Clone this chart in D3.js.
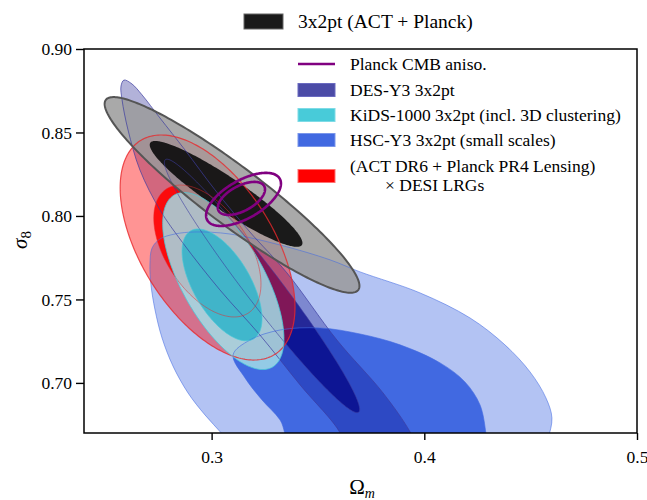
<!DOCTYPE html>
<html>
<head>
<meta charset="utf-8">
<script src="https://cdn.jsdelivr.net/npm/d3@7/dist/d3.min.js"></script>
<style>
  body { margin: 0; background: #fff; }
  svg { display: block; font-family: "Liberation Serif", "Times New Roman", serif; }
</style>
</head>
<body>
<svg id="chart" width="647" height="500"></svg>
<script>
// ---- axis ranges and ticks ----
const xDomain = [0.24, 0.50];
const yDomain = [0.67, 0.90];
const xTicks = [0.3, 0.4, 0.5];
const yTicks = [0.70, 0.75, 0.80, 0.85, 0.90];

// ---- Gaussian-like contours: centre, marginal half-widths, correlation ----
const actPlanckOuter = { cx: 0.3096, cy: 0.8126, sx: 0.0599, sy: 0.0586, rho: -0.930 };
const actPlanckInner = { cx: 0.3068, cy: 0.8132, sx: 0.0359, sy: 0.0317, rho: -0.927 };
const planckOuter    = { cx: 0.3150, cy: 0.8099, sx: 0.0176, sy: 0.0159, rho: 0.60 };
const planckInner    = { cx: 0.3140, cy: 0.8105, sx: 0.0111, sy: 0.0099, rho: 0.55 };
const kidsOuter      = { cx: 0.3055, cy: 0.7610, sx: 0.0285, sy: 0.0530, rho: -0.65 };
const kidsInner      = { cx: 0.3049, cy: 0.7587, sx: 0.0188, sy: 0.0335, rho: -0.60 };
const lrgOuter       = { cx: 0.2981, cy: 0.7811, sx: 0.0411, sy: 0.0674, rho: -0.53 };
const lrgInner       = { cx: 0.2980, cy: 0.7790, sx: 0.0252, sy: 0.0395, rho: -0.50 };
const desInner       = { cx: 0.3237, cy: 0.7581, sx: 0.0459, sy: 0.0759, rho: -0.974 };

// ---- non-elliptical contours traced as (Omega_m, sigma_8) vertices ----
const desOuter = [
  [0.2588, 0.8814], [0.2626, 0.8790], [0.2673, 0.8725], [0.2757, 0.8587], [0.2875, 0.8395],
  [0.3016, 0.8156], [0.3180, 0.7904], [0.3354, 0.7659], [0.3589, 0.7257], [0.3806, 0.6940],
  [0.3933, 0.6707], [0.3970, 0.6599], [0.3800, 0.6590], [0.3627, 0.6599], [0.3604, 0.6701],
  [0.3416, 0.6988], [0.3227, 0.7287], [0.3039, 0.7557], [0.2865, 0.7838], [0.2757, 0.8036],
  [0.2663, 0.8275], [0.2607, 0.8515], [0.2579, 0.8695], [0.2574, 0.8778]
];
const hscOuter = [
  [0.2710, 0.7707], [0.2720, 0.7808], [0.2757, 0.7862], [0.2828, 0.7892], [0.2922, 0.7904],
  [0.3086, 0.7892], [0.3322, 0.7826], [0.3557, 0.7737], [0.3698, 0.7665], [0.3980, 0.7539],
  [0.4215, 0.7389], [0.4379, 0.7228], [0.4497, 0.7066], [0.4572, 0.6910], [0.4600, 0.6790],
  [0.4582, 0.6671], [0.4553, 0.6587], [0.3886, 0.6569], [0.3110, 0.6599], [0.3049, 0.6695],
  [0.2969, 0.6808], [0.2889, 0.6940], [0.2818, 0.7102], [0.2767, 0.7269], [0.2734, 0.7437],
  [0.2715, 0.7587]
];
const hscInner = [
  [0.3101, 0.7168], [0.3180, 0.7257], [0.3322, 0.7317], [0.3510, 0.7329], [0.3698, 0.7293],
  [0.3886, 0.7228], [0.4074, 0.7120], [0.4191, 0.7006], [0.4262, 0.6868], [0.4290, 0.6695],
  [0.4295, 0.6629], [0.3843, 0.6599], [0.3378, 0.6629], [0.3322, 0.6778], [0.3237, 0.6898],
  [0.3157, 0.7030]
];

// ---- legend labels ----
const topLegendLabel = "3x2pt (ACT + Planck)";
const legendLabels = [
  ["Planck CMB aniso."],
  ["DES-Y3 3x2pt"],
  ["KiDS-1000 3x2pt (incl. 3D clustering)"],
  ["HSC-Y3 3x2pt (small scales)"],
  ["(ACT DR6 + Planck PR4 Lensing)", "\u00d7 DESI LRGs"]
];

// ---- layout ----
const svg = d3.select("#chart");
const plot = { left: 84, right: 637, top: 49, bottom: 433 };
const x = d3.scaleLinear().domain(xDomain).range([plot.left, plot.right]);
const y = d3.scaleLinear().domain(yDomain).range([plot.bottom, plot.top]);

svg.append("defs").append("clipPath").attr("id", "plotClip")
  .append("rect")
  .attr("x", plot.left).attr("y", plot.top)
  .attr("width", plot.right - plot.left).attr("height", plot.bottom - plot.top);

function ellipsePoints(e, n = 240) {
  const pts = [];
  const k = Math.sqrt(1 - e.rho * e.rho);
  for (let i = 0; i < n; i++) {
    const t = (i / n) * 2 * Math.PI;
    pts.push([e.cx + e.sx * Math.cos(t), e.cy + e.sy * (e.rho * Math.cos(t) + k * Math.sin(t))]);
  }
  return pts;
}
const lineLinear = d3.line().x(d => x(d[0])).y(d => y(d[1])).curve(d3.curveLinearClosed);
const lineSmooth = d3.line().x(d => x(d[0])).y(d => y(d[1])).curve(d3.curveCatmullRomClosed.alpha(0.5));

const g = svg.append("g").attr("clip-path", "url(#plotClip)");
const fills = g.append("g");
const edges = g.append("g");

function contour(pts, smooth, fill, fillOpacity, stroke, strokeWidth, strokeOpacity) {
  const gen = smooth ? lineSmooth : lineLinear;
  fills.append("path").attr("d", gen(pts)).attr("fill", fill).attr("fill-opacity", fillOpacity).attr("stroke", "none");
  if (stroke) {
    edges.append("path").attr("d", gen(pts)).attr("fill", "none")
      .attr("stroke", stroke).attr("stroke-width", strokeWidth).attr("stroke-opacity", strokeOpacity);
  }
}

// HSC-Y3
contour(hscOuter, true, "#4169e1", 0.4, "#4169e1", 1, 0.55);
contour(hscInner, true, "#4169e1", 1.0, "#4169e1", 1, 0.6);
// DES-Y3
contour(desOuter, true, "#000080", 0.3, "#3c3ca0", 1, 0.7);
contour(ellipsePoints(desInner), false, "#000080", 0.7, "#3c3ca0", 1, 0.6);
// ACT DR6 + Planck PR4 lensing x DESI LRGs
contour(ellipsePoints(lrgOuter), false, "#ff0000", 0.42, "#e8282c", 1.2, 0.8);
contour(ellipsePoints(lrgInner), false, "#ff0000", 0.9, "#e8282c", 1, 0.5);
// KiDS-1000
contour(ellipsePoints(kidsOuter), false, "#a2dde6", 0.85, "#48cbd9", 1, 0.8);
contour(ellipsePoints(kidsInner), false, "#2eb3c9", 0.85, "#48cbd9", 1, 0.7);
// 3x2pt ACT + Planck
contour(ellipsePoints(actPlanckOuter), false, "#9a9a9a", 0.85, "#555555", 2, 1);
contour(ellipsePoints(actPlanckInner), false, "#0a0a0a", 0.9, null);
// Planck CMB anisotropies (lines only)
[planckOuter, planckInner].forEach(e => {
  g.append("path").attr("d", lineLinear(ellipsePoints(e)))
    .attr("fill", "none").attr("stroke", "#800080").attr("stroke-width", 2.6);
});

// ---- axes ----
const fontTick = 17.5;
const xAxis = d3.axisBottom(x).tickValues(xTicks).tickFormat(d3.format(".1f")).tickSizeOuter(0).tickSize(7);
const yAxis = d3.axisLeft(y).tickValues(yTicks).tickFormat(d3.format(".2f")).tickSizeOuter(0).tickSize(8);

const gx = svg.append("g").attr("transform", `translate(0,${plot.bottom})`).call(xAxis);
const gy = svg.append("g").attr("transform", `translate(${plot.left},0)`).call(yAxis);
[gx, gy].forEach(a => {
  a.select(".domain").remove();
  a.selectAll(".tick line").attr("stroke", "#000").attr("stroke-width", 1.4);
  a.selectAll(".tick text").attr("font-family", "Liberation Serif, serif").attr("font-size", fontTick).attr("fill", "#000");
});
gx.selectAll(".tick text").attr("dy", "1.15em");
gy.selectAll(".tick text").attr("x", -12);

svg.append("rect")
  .attr("x", plot.left).attr("y", plot.top)
  .attr("width", plot.right - plot.left).attr("height", plot.bottom - plot.top)
  .attr("fill", "none").attr("stroke", "#000").attr("stroke-width", 1.5);

// axis labels
const xl = svg.append("text").attr("x", 362).attr("y", 494).attr("text-anchor", "middle")
  .attr("font-size", 21);
xl.append("tspan").text("\u03a9");
xl.append("tspan").attr("font-style", "italic").attr("font-size", 14).attr("dy", 4).text("m");

const yl = svg.append("text").attr("transform", "translate(27,240) rotate(-90)").attr("text-anchor", "middle")
  .attr("font-size", 21);
yl.append("tspan").attr("font-style", "italic").text("\u03c3");
yl.append("tspan").attr("font-size", 15).attr("dy", 4).text("8");

// ---- top legend ----
svg.append("rect").attr("x", 244).attr("y", 14).attr("width", 39).attr("height", 15)
  .attr("fill", "#1a1a1a").attr("stroke", "#666").attr("stroke-width", 1);
svg.append("text").attr("x", 298).attr("y", 28).attr("font-size", 19.5).text(topLegendLabel);

// ---- inner legend ----
const legendColors = [
  { type: "line", color: "#800080" },
  { type: "box", color: "#4b4ba6", stroke: "#6a6ac0" },
  { type: "box", color: "#48cbd9", stroke: "#7fdbe6" },
  { type: "box", color: "#4169e1", stroke: "#7a96ea" },
  { type: "box", color: "#ff0000", stroke: "#ff7070" }
];
const rowY = [64, 90, 115, 140, 176];
const lg = svg.append("g");
legendLabels.forEach((lines, i) => {
  const h = legendColors[i];
  if (h.type === "line") {
    lg.append("line").attr("x1", 298).attr("x2", 335).attr("y1", rowY[i]).attr("y2", rowY[i])
      .attr("stroke", h.color).attr("stroke-width", 2.6);
  } else {
    lg.append("rect").attr("x", 298).attr("y", rowY[i] - 6.5).attr("width", 37).attr("height", 13)
      .attr("fill", h.color).attr("stroke", h.stroke).attr("stroke-width", 1);
  }
  if (lines.length === 1) {
    lg.append("text").attr("x", 350).attr("y", rowY[i] + 6).attr("font-size", fontTick).text(lines[0]);
  } else {
    lg.append("text").attr("x", 350).attr("y", rowY[i] - 4).attr("font-size", fontTick).text(lines[0]);
    lg.append("text").attr("x", 385).attr("y", rowY[i] + 15).attr("font-size", fontTick).text(lines[1]);
  }
});
</script>
</body>
</html>
